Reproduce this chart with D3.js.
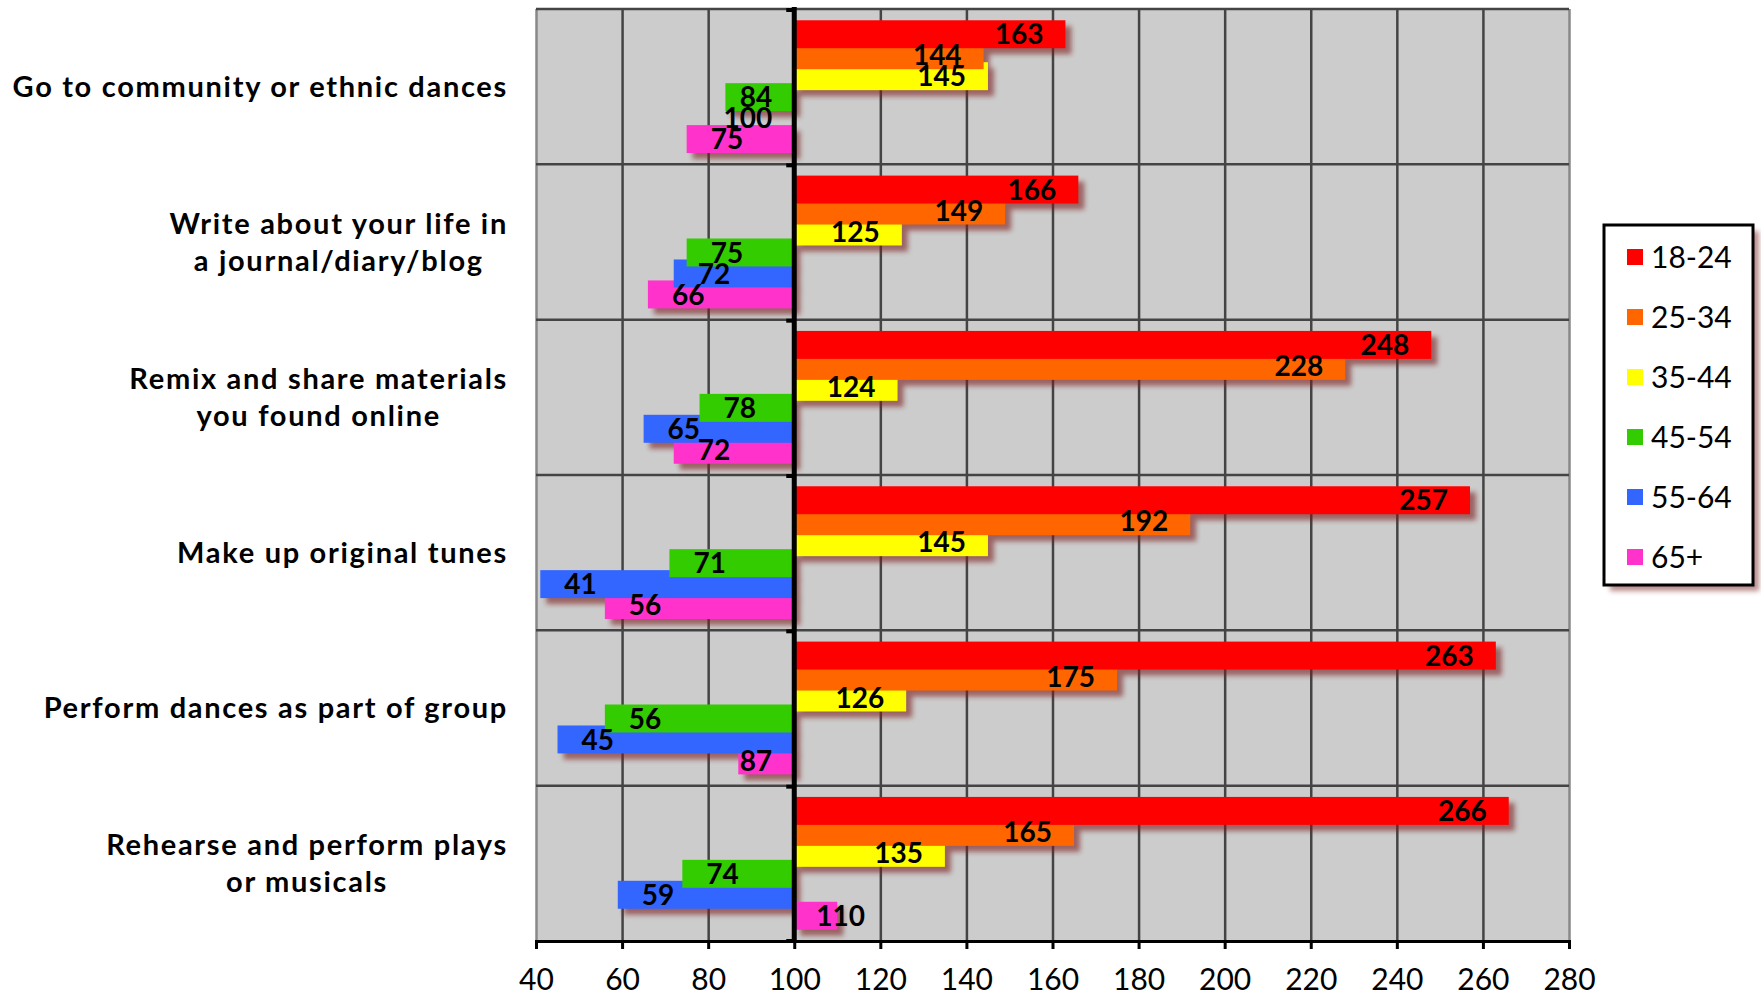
<!DOCTYPE html>
<html>
<head>
<meta charset="utf-8">
<script src="https://cdn.jsdelivr.net/npm/d3@7"></script>
<style>
  html, body { margin: 0; padding: 0; background: #fff; }
  svg { display: block; font-family: Lato, "Open Sans", sans-serif; }
</style>
</head>
<body>
<svg id="chart"></svg>
<script>
//chart data
const categories = [
  'Go to community or ethnic dances',
  'Write about your life in\na journal/diary/blog',
  'Remix and share materials\nyou found online',
  'Make up original tunes',
  'Perform dances as part of group',
  'Rehearse and perform plays\nor musicals'
]
const seriesNames = ['18-24', '25-34', '35-44', '45-54', '55-64', '65+']
const seriesColors = ['#ff0000', '#ff6600', '#ffff00', '#33cc00', '#3366ff', '#ff33cc']

const age18to24 = [163, 166, 248, 257, 263, 266]
const age25to34 = [144, 149, 228, 192, 175, 165]
const age35to44 = [145, 125, 124, 145, 126, 135]
const age45to54 = [84, 75, 78, 71, 56, 74]
const age55to64 = [100, 72, 65, 41, 45, 59]
const age65plus = [75, 66, 72, 56, 87, 110]

const xTicks = [40, 60, 80, 100, 120, 140, 160, 180, 200, 220, 240, 260, 280]
const baseline = 100

const seriesValues = [age18to24, age25to34, age35to44, age45to54, age55to64, age65plus]

//set up svg container
const width = 1761
const height = 995
const plot = { left: 536, right: 1569, top: 9, bottom: 941 }

const svg = d3.select('#chart')
              .attr('width', width)
              .attr('height', height)

const defs = svg.append('defs')
const blur = defs.append('filter').attr('id', 'blur')
                 .attr('x', '-20%').attr('y', '-50%')
                 .attr('width', '140%').attr('height', '200%')
blur.append('feGaussianBlur').attr('stdDeviation', 2.5)

//setting the scales
const xScale = d3.scaleLinear()
                 .domain([40, 280])
                 .range([plot.left, plot.right])

const yScale = d3.scaleBand()
                 .domain(categories)
                 .range([plot.top, plot.bottom])

const band = yScale.bandwidth()
const barHeight = band * 0.18
const barStep = band * 0.135
const barPad = (band - 5 * barStep - barHeight) / 2

const subScale = d3.scalePoint()
                   .domain(seriesNames)
                   .range([barPad, barPad + 5 * barStep])

//plot background
svg.append('rect')
   .attr('x', plot.left)
   .attr('y', plot.top)
   .attr('width', plot.right - plot.left)
   .attr('height', plot.bottom - plot.top)
   .attr('fill', '#cccccc')

//vertical grid
svg.append('g')
   .attr('transform', `translate(0, ${plot.bottom})`)
   .call(d3.axisBottom(xScale).tickValues(xTicks).tickSize(-(plot.bottom - plot.top)).tickFormat(''))
   .call(g => g.select('.domain').remove())
   .call(g => g.selectAll('line').attr('stroke', '#444').attr('stroke-width', 2.5))
   .call(g => g.selectAll('.tick').filter(d => d === 40 || d === 280).select('line').attr('stroke', '#888'))

//horizontal grid
svg.append('g')
   .selectAll('line')
   .data(categories)
   .join('line')
   .attr('x1', plot.left)
   .attr('x2', plot.right)
   .attr('y1', d => yScale(d))
   .attr('y2', d => yScale(d))
   .attr('stroke', '#444')
   .attr('stroke-width', 2.5)

//flatten the bars, drawn last series first so earlier series sit on top
const bars = []
seriesNames.forEach((name, s) => {
    categories.forEach((cat, c) => {
        bars.push({ cat, name, color: seriesColors[s], value: seriesValues[s][c], order: s })
    })
})
bars.sort((a, b) => b.order - a.order)

const barX = d => xScale(Math.min(d.value, baseline))
const barW = d => Math.abs(xScale(d.value) - xScale(baseline))
const barY = d => yScale(d.cat) + subScale(d.name)

//shadows
svg.append('g')
   .attr('filter', 'url(#blur)')
   .attr('opacity', 0.6)
   .selectAll('rect')
   .data(bars.filter(d => d.value !== baseline))
   .join('rect')
   .attr('x', d => barX(d) + 6)
   .attr('y', d => barY(d) + 6)
   .attr('width', barW)
   .attr('height', barHeight)
   .attr('fill', '#7a1c1c')

//bars
svg.append('g')
   .selectAll('rect')
   .data(bars)
   .join('rect')
   .attr('x', barX)
   .attr('y', barY)
   .attr('width', barW)
   .attr('height', barHeight)
   .attr('fill', d => d.color)

//vertical axis at the baseline
const axisX = xScale(baseline)
svg.append('line')
   .attr('x1', axisX).attr('x2', axisX)
   .attr('y1', plot.top - 2).attr('y2', plot.bottom)
   .attr('stroke', '#000')
   .attr('stroke-width', 5)

svg.append('g')
   .selectAll('line')
   .data(categories.concat(['end']))
   .join('line')
   .attr('x1', axisX - 8)
   .attr('x2', axisX)
   .attr('y1', d => d === 'end' ? plot.bottom : yScale(d) + 1)
   .attr('y2', d => d === 'end' ? plot.bottom : yScale(d) + 1)
   .attr('stroke', '#000')
   .attr('stroke-width', 4)

//bottom axis
svg.append('g')
   .attr('transform', `translate(0, ${plot.bottom})`)
   .call(d3.axisBottom(xScale).tickValues(xTicks).tickSize(8).tickPadding(20))
   .call(g => g.select('.domain').attr('stroke', '#000').attr('stroke-width', 3))
   .call(g => g.selectAll('line').attr('stroke', '#000').attr('stroke-width', 3))
   .call(g => g.selectAll('text')
               .attr('fill', '#000')
               .attr('font-size', 30)
               .attr('font-family', 'Lato, sans-serif'))

//value labels
const labels = svg.append('g')
                  .selectAll('text')
                  .data(bars)
                  .join('text')
                  .attr('y', d => barY(d) + barHeight / 2)
                  .attr('dy', '0.36em')
                  .attr('font-size', 28)
                  .attr('font-weight', 'bold')
                  .attr('fill', '#000')
                  .text(d => d.value)

labels.each(function (d) {
    const w = this.getComputedTextLength()
    const end = xScale(d.value)
    if (d.value > baseline) {
        const right = Math.max(end - 22, axisX + 22 + w)
        d3.select(this).attr('x', right).attr('text-anchor', 'end')
    } else {
        const left = Math.min(end + 24, axisX - 22 - w)
        d3.select(this).attr('x', left).attr('text-anchor', 'start')
    }
})

//category labels, block right aligned, lines centred
const catLabels = svg.append('g')
                     .selectAll('text')
                     .data(categories)
                     .join('text')
                     .attr('font-size', 29)
                     .attr('font-weight', 'bold')
                     .attr('letter-spacing', 1.7)
                     .attr('fill', '#000')

catLabels.each(function (cat) {
    const lines = cat.split('\n')
    const el = d3.select(this)
    const centerY = yScale(cat) + band / 2
    const lineH = 37
    lines.forEach((line, i) => {
        el.append('tspan')
          .attr('y', centerY + (i - (lines.length - 1) / 2) * lineH)
          .attr('dy', '0.36em')
          .text(line)
    })
    const widths = el.selectAll('tspan').nodes().map(n => n.getComputedTextLength())
    const blockW = d3.max(widths)
    el.attr('text-anchor', 'middle')
    el.selectAll('tspan').attr('x', 508 - blockW / 2)
})

//legend
const legend = { x: 1604, y: 225, w: 149, h: 360 }
const legendScale = d3.scalePoint()
                      .domain(seriesNames)
                      .range([legend.y + 32, legend.y + 332])

svg.append('rect')
   .attr('x', legend.x + 6).attr('y', legend.y + 6)
   .attr('width', legend.w).attr('height', legend.h)
   .attr('fill', '#7a1c1c')
   .attr('opacity', 0.5)
   .attr('filter', 'url(#blur)')

svg.append('rect')
   .attr('x', legend.x).attr('y', legend.y)
   .attr('width', legend.w).attr('height', legend.h)
   .attr('fill', '#fff')
   .attr('stroke', '#000')
   .attr('stroke-width', 3)

const items = svg.append('g')
                 .selectAll('g')
                 .data(seriesNames)
                 .join('g')
                 .attr('transform', d => `translate(${legend.x + 23}, ${legendScale(d)})`)

items.append('rect')
     .attr('x', 0).attr('y', -8)
     .attr('width', 16).attr('height', 16)
     .attr('fill', (d, i) => seriesColors[i])

items.append('text')
     .attr('x', 24)
     .attr('dy', '0.36em')
     .attr('font-size', 30)
     .attr('fill', '#000')
     .text(d => d)
</script>
</body>
</html>
